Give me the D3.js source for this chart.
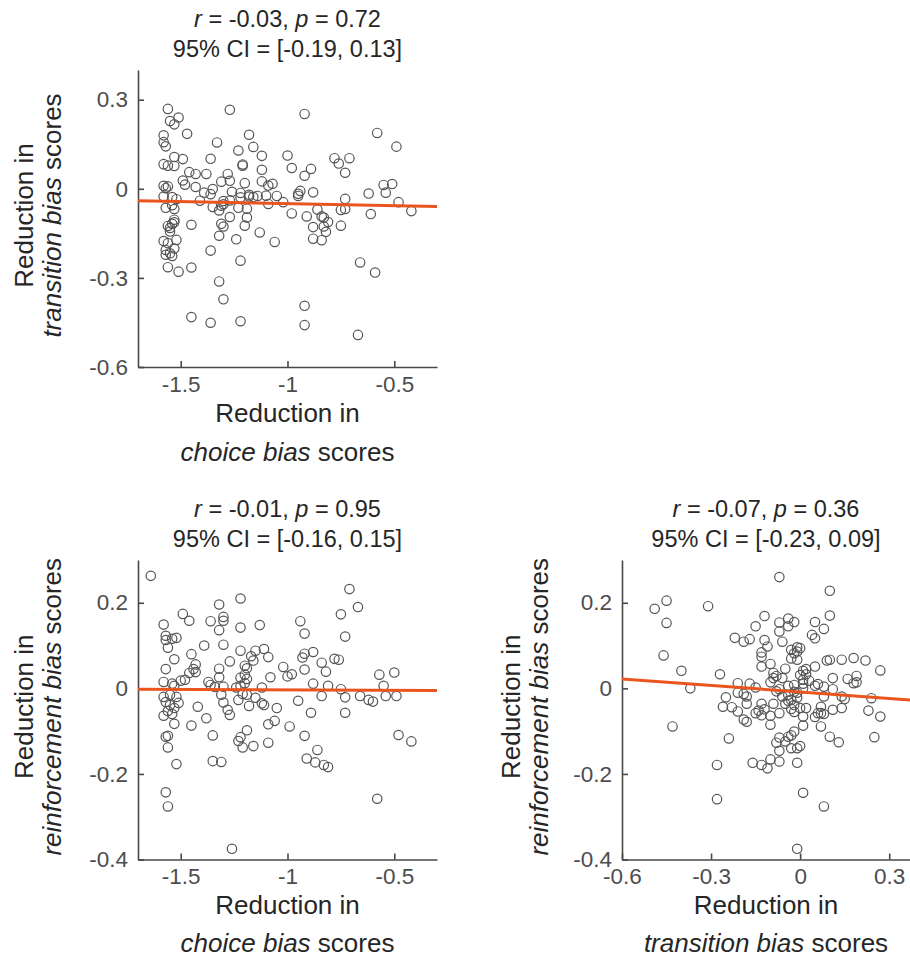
<!DOCTYPE html>
<html><head><meta charset="utf-8">
<script src="https://cdn.jsdelivr.net/npm/d3@7"></script>
<style>
body{margin:0;background:#fff}
svg text{font-family:"Liberation Sans",Arial,Helvetica,sans-serif}
</style>
</head><body>
<svg id="chart" width="910" height="958"></svg>
<script>
// ---------- DATA ----------
// Panel A: x = reduction in choice bias, y = reduction in transition bias
const choiceVsTransition = [
[-1.56,0.269],[-1.27,0.266],[-1.51,0.240],[-1.55,0.228],[-1.53,0.217],[-1.47,0.185],[-1.58,0.180],[-1.18,0.182],
[-1.58,0.157],[-1.57,0.143],[-1.33,0.156],[-1.16,0.141],[-1.23,0.129],[-1.12,0.111],[-1.00,0.112],[-1.36,0.101],
[-1.53,0.107],[-1.49,0.100],[-1.58,0.083],[-1.56,0.078],[-1.53,0.077],[-1.21,0.078],[-1.21,0.082],[-0.98,0.070],
[-1.12,0.064],[-1.46,0.056],[-1.43,0.050],[-1.38,0.050],[-1.28,0.050],[-1.49,0.028],[-1.48,0.014],[-1.31,0.024],
[-1.27,0.027],[-1.20,0.019],[-1.12,0.025],[-1.09,0.011],[-1.07,0.017],[-1.58,0.010],[-1.56,0.008],[-1.57,0.002],
[-1.43,0.006],[-1.35,-0.001],[-1.39,-0.013],[-1.36,-0.018],[-1.26,-0.010],[-1.22,-0.014],[-1.18,-0.020],[-1.14,-0.024],
[-1.16,-0.028],[-1.18,-0.026],[-1.10,-0.023],[-1.05,-0.024],[-1.58,-0.026],[-1.54,-0.028],[-1.52,-0.035],[-1.41,-0.040],
[-1.30,-0.041],[-1.27,-0.039],[-1.22,-0.029],[-1.09,-0.051],[-1.02,-0.045],[-1.57,-0.064],[-1.54,-0.055],[-1.53,-0.068],
[-1.35,-0.061],[-1.31,-0.057],[-1.30,-0.052],[-1.32,-0.073],[-1.23,-0.064],[-1.19,-0.067],[-1.27,-0.095],[-1.19,-0.097],
[-0.98,-0.083],[-1.53,-0.104],[-1.54,-0.118],[-1.56,-0.125],[-1.45,-0.121],[-1.31,-0.118],[-1.30,-0.127],[-1.20,-0.124],
[-1.13,-0.147],[-1.53,-0.113],[-1.55,-0.132],[-1.55,-0.144],[-1.06,-0.179],[-1.32,-0.158],[-1.24,-0.170],[-1.58,-0.176],
[-1.56,-0.183],[-1.52,-0.172],[-1.53,-0.201],[-1.57,-0.206],[-1.55,-0.217],[-1.57,-0.222],[-1.54,-0.226],[-1.36,-0.208],
[-1.22,-0.242],[-1.56,-0.264],[-1.51,-0.279],[-1.45,-0.265],[-1.32,-0.312],[-1.30,-0.372],[-1.45,-0.432],[-1.36,-0.451],
[-1.22,-0.446],[-0.92,0.252],[-0.58,0.188],[-0.49,0.142],[-0.78,0.103],[-0.76,0.085],[-0.71,0.103],[-0.73,0.054],
[-0.89,0.067],[-0.92,0.044],[-0.94,-0.007],[-0.95,-0.017],[-0.95,-0.024],[-0.88,-0.012],[-0.55,0.013],[-0.51,0.016],
[-0.54,-0.013],[-0.62,-0.016],[-0.48,-0.045],[-0.42,-0.075],[-0.73,-0.034],[-0.75,-0.071],[-0.73,-0.068],[-0.61,-0.085],
[-0.86,-0.070],[-0.91,-0.093],[-0.84,-0.093],[-0.83,-0.097],[-0.81,-0.112],[-0.83,-0.127],[-0.82,-0.145],[-0.88,-0.129],
[-0.75,-0.124],[-0.88,-0.168],[-0.84,-0.173],[-0.66,-0.248],[-0.59,-0.282],[-0.92,-0.394],[-0.92,-0.459],[-0.67,-0.492]
];
// Panel B: x = reduction in choice bias, y = reduction in reinforcement bias
const choiceVsReinforcement = [
[-1.64,0.263],[-1.22,0.210],[-1.32,0.196],[-1.49,0.174],[-1.46,0.158],[-1.30,0.167],[-1.30,0.158],[-1.36,0.157],
[-1.13,0.148],[-1.58,0.149],[-1.32,0.136],[-1.22,0.142],[-1.57,0.123],[-1.54,0.116],[-1.52,0.118],[-1.57,0.113],
[-1.56,0.095],[-1.39,0.100],[-1.30,0.102],[-1.22,0.088],[-1.15,0.088],[-1.11,0.092],[-1.17,0.075],[-1.09,0.073],
[-1.16,0.065],[-1.45,0.080],[-1.53,0.068],[-1.27,0.063],[-1.43,0.056],[-1.44,0.045],[-1.43,0.038],[-1.46,0.036],
[-1.57,0.045],[-1.32,0.046],[-1.32,0.026],[-1.20,0.053],[-1.19,0.047],[-1.20,0.032],[-1.19,0.022],[-1.22,0.025],
[-1.20,0.012],[-1.02,0.050],[-1.00,0.028],[-1.08,0.026],[-1.48,0.020],[-1.50,0.018],[-1.58,0.015],[-1.54,0.011],
[-1.53,0.006],[-1.37,0.015],[-1.36,0.008],[-1.34,0.003],[-1.30,0.004],[-1.31,-0.015],[-1.30,-0.033],[-1.24,0.002],
[-1.22,0.006],[-1.21,-0.013],[-1.19,-0.015],[-1.12,0.002],[-1.15,-0.022],[-1.12,-0.035],[-1.11,-0.039],[-1.18,-0.041],
[-1.05,-0.046],[-1.42,-0.043],[-1.28,-0.050],[-1.58,-0.064],[-1.55,-0.039],[-1.53,-0.046],[-1.56,-0.053],[-1.51,-0.034],
[-1.54,-0.060],[-1.57,-0.032],[-1.58,-0.020],[-1.55,-0.015],[-1.52,-0.020],[-1.53,-0.083],[-1.45,-0.087],[-1.38,-0.070],
[-1.27,-0.062],[-1.23,-0.027],[-1.06,-0.076],[-1.09,-0.084],[-0.99,-0.089],[-1.19,-0.098],[-1.57,-0.113],[-1.56,-0.111],
[-1.56,-0.138],[-1.35,-0.110],[-1.22,-0.114],[-1.23,-0.123],[-1.21,-0.138],[-1.16,-0.135],[-1.09,-0.127],[-1.52,-0.177],
[-1.35,-0.170],[-1.31,-0.172],[-1.57,-0.243],[-1.56,-0.276],[-1.26,-0.375],[-0.71,0.232],[-0.67,0.190],[-0.75,0.173],
[-0.94,0.157],[-0.92,0.128],[-0.73,0.121],[-0.92,0.081],[-0.93,0.072],[-0.88,0.085],[-0.78,0.069],[-0.76,0.067],
[-0.84,0.060],[-0.82,0.039],[-0.92,0.044],[-0.98,0.033],[-0.88,0.011],[-0.81,0.006],[-0.75,-0.002],[-0.73,-0.021],
[-0.84,-0.018],[-0.95,-0.029],[-0.89,-0.057],[-0.73,-0.057],[-0.66,-0.018],[-0.62,-0.027],[-0.60,-0.031],[-0.57,0.032],
[-0.50,0.037],[-0.55,0.006],[-0.54,-0.018],[-0.49,-0.018],[-0.48,-0.109],[-0.42,-0.124],[-0.92,-0.111],[-0.86,-0.144],
[-0.91,-0.164],[-0.87,-0.173],[-0.83,-0.179],[-0.81,-0.184],[-0.58,-0.258]
];
// Panel C: x = reduction in transition bias, y = reduction in reinforcement bias
const transitionVsReinforcement = [
[-0.49,0.186],[-0.45,0.205],[-0.31,0.192],[-0.45,0.153],[-0.22,0.118],[-0.46,0.077],[-0.40,0.041],[-0.27,0.033],
[-0.37,0.000],[-0.21,0.012],[-0.25,-0.021],[-0.21,-0.010],[-0.26,-0.043],[-0.23,-0.044],[-0.21,-0.054],[-0.43,-0.089],
[-0.24,-0.117],[-0.28,-0.179],[-0.28,-0.259],[-0.07,0.260],[0.10,0.228],[-0.12,0.169],[0.10,0.170],[-0.15,0.145],
[-0.07,0.154],[-0.04,0.163],[-0.04,0.145],[-0.02,0.155],[-0.07,0.133],[0.05,0.155],[0.08,0.139],[0.04,0.125],
[0.05,0.117],[-0.19,0.109],[-0.17,0.115],[-0.12,0.113],[-0.11,0.098],[-0.06,0.109],[-0.13,0.084],[-0.13,0.074],
[-0.13,0.051],[-0.10,0.057],[-0.09,0.036],[-0.08,0.029],[-0.06,0.024],[-0.03,0.090],[-0.01,0.096],[-0.02,0.082],
[-0.01,0.086],[0.00,0.094],[-0.03,0.070],[-0.01,0.067],[-0.05,0.046],[0.01,0.041],[0.02,0.045],[0.00,0.031],
[0.03,0.018],[0.01,0.020],[0.05,0.051],[0.09,0.065],[0.10,0.067],[0.14,0.067],[0.18,0.071],[0.22,0.065],
[0.27,0.042],[0.11,0.024],[0.16,0.022],[0.19,0.029],[0.18,0.012],[0.19,0.014],[0.08,0.004],[0.11,-0.002],
[0.08,-0.019],[0.14,-0.019],[0.15,-0.025],[0.24,-0.023],[0.14,-0.046],[0.23,-0.052],[0.27,-0.066],[0.25,-0.114],
[-0.17,0.011],[-0.15,0.002],[-0.19,-0.013],[-0.18,-0.019],[-0.18,-0.036],[-0.18,-0.078],[-0.19,-0.073],[-0.15,-0.058],
[-0.13,-0.036],[-0.12,-0.049],[-0.14,-0.052],[-0.13,-0.063],[-0.10,-0.064],[-0.10,-0.085],[-0.09,-0.036],[-0.07,-0.058],
[-0.08,-0.007],[-0.07,-0.002],[-0.06,-0.019],[-0.04,0.006],[-0.04,-0.015],[-0.03,-0.027],[-0.02,-0.039],[-0.03,-0.048],
[-0.01,-0.022],[-0.05,-0.036],[-0.02,-0.055],[0.00,-0.046],[-0.04,-0.029],[-0.02,-0.008],[-0.02,0.008],[0.01,0.000],
[-0.01,-0.010],[0.02,0.033],[0.01,0.011],[0.02,-0.046],[0.01,-0.066],[0.01,-0.087],[0.06,-0.058],[0.05,-0.067],
[0.07,-0.058],[0.08,-0.060],[0.07,-0.043],[0.07,-0.089],[0.11,-0.050],[0.10,-0.113],[0.13,-0.126],[-0.02,-0.101],
[-0.03,-0.110],[-0.04,-0.113],[-0.07,-0.115],[-0.08,-0.127],[-0.05,-0.124],[-0.03,-0.140],[-0.01,-0.140],[0.00,-0.135],
[-0.07,-0.146],[-0.10,-0.166],[-0.07,-0.171],[-0.13,-0.179],[-0.11,-0.187],[-0.16,-0.174],[-0.01,-0.174],[0.01,-0.244],
[0.08,-0.276],[-0.01,-0.375],[0.05,0.006],[0.06,0.010],[-0.10,0.014],[-0.09,0.024]
];
// Least-squares fit lines (end points)
const fitA = [[-1.7,-0.040],[-0.3,-0.060]];
const fitB = [[-1.7,-0.002],[-0.3,-0.005]];
const fitC = [[-0.6,0.022],[0.37,-0.027]];
// Tick values
const ticksChoice = [-1.5,-1,-0.5];
const ticksTransitionY = [-0.6,-0.3,0,0.3];
const ticksReinforcement = [-0.4,-0.2,0,0.2];
const ticksTransitionX = [-0.6,-0.3,0,0.3];
// Statistics text
const statsA = {r:"-0.03", p:"0.72", ci:"[-0.19, 0.13]"};
const statsB = {r:"-0.01", p:"0.95", ci:"[-0.16, 0.15]"};
const statsC = {r:"-0.07", p:"0.36", ci:"[-0.23, 0.09]"};
// Axis titles: [italic, plain]
const labChoice = ["choice bias", " scores"];
const labTransition = ["transition bias", " scores"];
const labReinforcement = ["reinforcement bias", " scores"];

// ---------- DRAWING ----------
const svg = d3.select("#chart");
const AXIS = "#484848", TEXT = "#262626", MARK = "#555555", FIT = "#EA551E";

const panels = [
  {data: choiceVsTransition, fit: fitA, stats: statsA,
   xd:[-1.7,-0.3], yd:[-0.6,0.4], xt:ticksChoice, yt:ticksTransitionY,
   L:138, R:437, T:70, B:367, xl:labChoice, yl:labTransition, ylx:[33,61], xly:[55,94]},
  {data: choiceVsReinforcement, fit: fitB, stats: statsB,
   xd:[-1.7,-0.3], yd:[-0.4,0.3], xt:ticksChoice, yt:ticksReinforcement,
   L:138, R:437, T:560, B:859.5, xl:labChoice, yl:labReinforcement, ylx:[33,61], xly:[54,92]},
  {data: transitionVsReinforcement, fit: fitC, stats: statsC,
   xd:[-0.6,0.37], yd:[-0.4,0.3], xt:ticksTransitionX, yt:ticksReinforcement,
   L:622, R:910, T:560, B:859.5, xl:labTransition, yl:labReinforcement, ylx:[520,548], xly:[54,92]}
];

const fmt = d => String(d);

panels.forEach(p => {
  const x = d3.scaleLinear().domain(p.xd).range([p.L, p.R]);
  const y = d3.scaleLinear().domain(p.yd).range([p.B, p.T]);
  const g = svg.append("g");

  // axes (ticks point inward)
  const ax = g.append("g").attr("transform", `translate(0,${p.B})`)
    .call(d3.axisBottom(x).tickValues(p.xt).tickFormat(fmt).tickSizeInner(-6).tickSizeOuter(0).tickPadding(9));
  const ay = g.append("g").attr("transform", `translate(${p.L},0)`)
    .call(d3.axisLeft(y).tickValues(p.yt).tickFormat(fmt).tickSizeInner(-6).tickSizeOuter(0).tickPadding(10));
  [ax, ay].forEach(a => {
    a.select(".domain").attr("stroke", AXIS).attr("stroke-width", 1.6);
    a.selectAll(".tick line").attr("stroke", AXIS).attr("stroke-width", 1.6);
    a.selectAll(".tick text").attr("fill", "#4d4d4d").style("font-size", "22.5px")
      .style("font-family", '"Liberation Sans",Arial,sans-serif');
  });

  // points
  g.append("g").selectAll("circle").data(p.data).join("circle")
    .attr("cx", d => x(d[0])).attr("cy", d => y(d[1])).attr("r", 4.7)
    .attr("fill", "none").attr("stroke", MARK).attr("stroke-width", 1.2);

  // fit line
  g.append("path").datum(p.fit)
    .attr("d", d3.line().x(d => x(d[0])).y(d => y(d[1])))
    .attr("stroke", FIT).attr("stroke-width", 3).attr("fill", "none");

  const cx = (p.L + p.R) / 2;
  // title
  const t1 = g.append("text").attr("x", cx).attr("y", p.T - 43).attr("text-anchor", "middle")
    .attr("fill", TEXT).style("font-size", "23.5px");
  t1.append("tspan").style("font-style", "italic").text("r");
  t1.append("tspan").text(` = ${p.stats.r}, `);
  t1.append("tspan").style("font-style", "italic").text("p");
  t1.append("tspan").text(` = ${p.stats.p}`);
  g.append("text").attr("x", cx).attr("y", p.T - 13).attr("text-anchor", "middle")
    .attr("fill", TEXT).style("font-size", "23.5px").text(`95% CI = ${p.stats.ci}`);

  // x-axis title
  g.append("text").attr("x", cx).attr("y", p.B + p.xly[0]).attr("text-anchor", "middle")
    .attr("fill", TEXT).style("font-size", "26px").text("Reduction in");
  const xt2 = g.append("text").attr("x", cx).attr("y", p.B + p.xly[1]).attr("text-anchor", "middle")
    .attr("fill", TEXT).style("font-size", "26px");
  xt2.append("tspan").style("font-style", "italic").text(p.xl[0]);
  xt2.append("tspan").text(p.xl[1]);

  // y-axis title (rotated)
  const cy = (p.T + p.B) / 2 - 3;
  g.append("text").attr("transform", `translate(${p.ylx[0]},${cy}) rotate(-90)`)
    .attr("text-anchor", "middle").attr("fill", TEXT).style("font-size", "26px").text("Reduction in");
  const yt2 = g.append("text").attr("transform", `translate(${p.ylx[1]},${cy}) rotate(-90)`)
    .attr("text-anchor", "middle").attr("fill", TEXT).style("font-size", "26px");
  yt2.append("tspan").style("font-style", "italic").text(p.yl[0]);
  yt2.append("tspan").text(p.yl[1]);
});
</script>
</body></html>
